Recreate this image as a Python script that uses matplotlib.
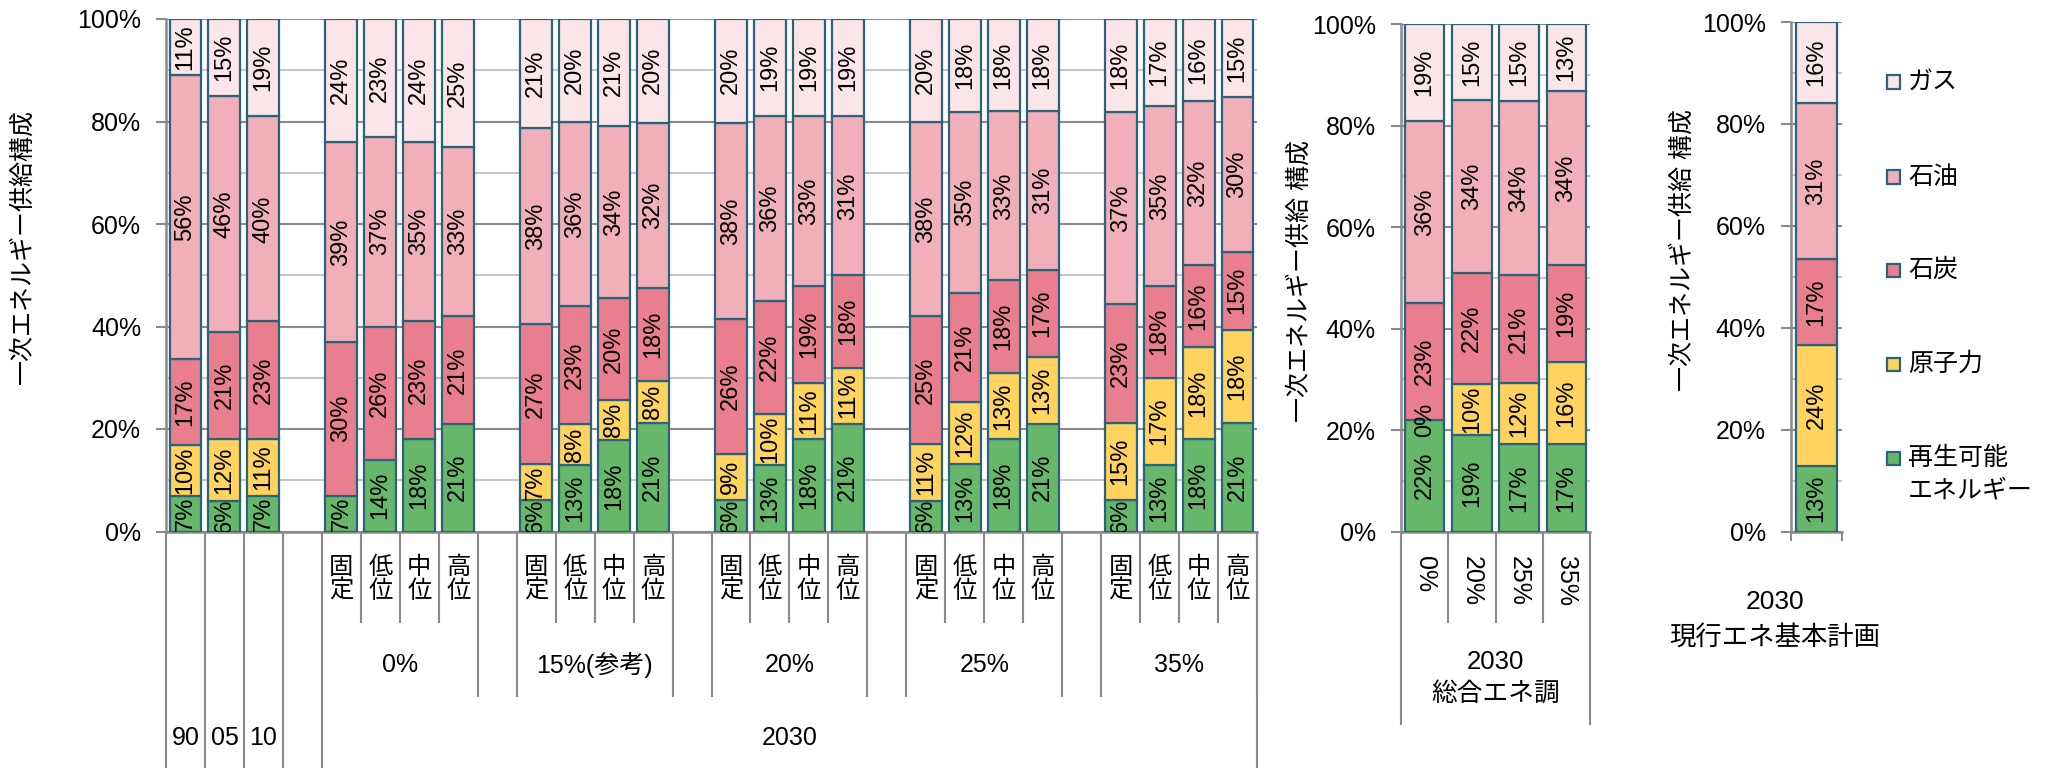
import matplotlib
matplotlib.use('Agg')
import matplotlib.pyplot as plt
import matplotlib.transforms as mtransforms
from matplotlib.patches import Rectangle

plt.rcParams['font.family'] = ['Liberation Sans', 'Noto Sans CJK JP']

# ---------------- data ----------------
sources = ['再生可能\nエネルギー', '原子力', '石炭', '石油', 'ガス']
colors = ['#66B76A', '#FFD35E', '#E97E8E', '#F1AFB9', '#FBE5E9']

years = ['90', '05', '10']
scenarios = ['0%', '15%(参考)', '20%', '25%', '35%']
cases = ['固定', '低位', '中位', '高位']
year_2030 = '2030'

renew_left = [7, 6, 7, 7, 14, 18, 21, 6, 13, 18, 21, 6, 13, 18, 21, 6, 13, 18, 21, 6, 13, 18, 21]
nuclear_left = [10, 12, 11, 0, 0, 0, 0, 7, 8, 8, 8, 9, 10, 11, 11, 11, 12, 13, 13, 15, 17, 18, 18]
coal_left = [17, 21, 23, 30, 26, 23, 21, 27, 23, 20, 18, 26, 22, 19, 18, 25, 21, 18, 17, 23, 18, 16, 15]
oil_left = [56, 46, 40, 39, 37, 35, 33, 38, 36, 34, 32, 38, 36, 33, 31, 38, 35, 33, 31, 37, 35, 32, 30]
gas_left = [11, 15, 19, 24, 23, 24, 25, 21, 20, 21, 20, 20, 19, 19, 19, 20, 18, 18, 18, 18, 17, 16, 15]

mid_cats = ['0%', '20%', '25%', '35%']
mid_title = ['2030', '総合エネ調']
renew_mid = [22, 19, 17, 17]
nuclear_mid = [0, 10, 12, 16]
coal_mid = [23, 22, 21, 19]
oil_mid = [36, 34, 34, 34]
gas_mid = [19, 15, 15, 13]

right_title = ['2030', '現行エネ基本計画']
plan_values = [13, 24, 17, 31, 16]  # renew, nuclear, coal, oil, gas

ylabel_left = '一次エネルギー供給構成'
ylabel_other = '一次エネルギー供給 構成'

# ---------------- style ----------------
W, H = 2053, 768
EDGE = '#2B6478'
GRID_MAJ = '#8A8A8A'
GRID_MIN = '#C6C6C6'
LINE = '#8A8A8A'

fig = plt.figure(figsize=(W / 100, H / 100), dpi=100)


def add_axes_px(x0, x1, ytop, ybot):
    return fig.add_axes([x0 / W, 1 - ybot / H, (x1 - x0) / W, (ybot - ytop) / H])


def style_axes(ax, xlim):
    ax.set_xlim(*xlim)
    ax.set_ylim(0, 100)
    ax.set_yticks(range(0, 101, 20))
    ax.set_yticklabels([f'{v}%' for v in range(0, 101, 20)])
    ax.set_yticks(range(10, 100, 20), minor=True)
    ax.yaxis.grid(True, which='major', color=GRID_MAJ, lw=1.5)
    ax.yaxis.grid(True, which='minor', color=GRID_MIN, lw=1.5)
    ax.tick_params(axis='y', which='major', length=7, width=1.5, color=LINE,
                   pad=11, labelsize=18)
    ax.tick_params(axis='y', which='minor', length=0)
    ax.set_xticks([])
    ax.set_axisbelow(True)
    for s in ['top', 'right']:
        ax.spines[s].set_visible(False)
    for s in ['left', 'bottom']:
        ax.spines[s].set_color(LINE)
        ax.spines[s].set_linewidth(1.8)


def draw_stacks(ax, xs, series, width, show_zero):
    n = len(xs)
    for j in range(n):
        vals = [s[j] for s in series]
        tot = sum(vals)
        bottom = 0.0
        for i, v in enumerate(vals):
            h = v / tot * 100
            if v > 0:
                ax.bar(xs[j], h, width, bottom=bottom, color=colors[i],
                       edgecolor=EDGE, linewidth=1.6, zorder=3)
            if v > 0 or show_zero[j]:
                ax.text(xs[j], bottom + h / 2, f'{v}%', rotation=90,
                        ha='center', va='center', fontsize=17, zorder=5,
                        clip_on=True)
            bottom += h


def vline(ax, x, ypx0, ypx1):
    tr = mtransforms.blended_transform_factory(ax.transData, fig.transFigure)
    ax.plot([x, x], [1 - ypx0 / H, 1 - ypx1 / H], transform=tr,
            color=LINE, lw=1.5, clip_on=False, solid_capstyle='butt')


def label(ax, x, ypx, s, **kw):
    tr = mtransforms.blended_transform_factory(ax.transData, fig.transFigure)
    ax.text(x, 1 - ypx / H, s, transform=tr, clip_on=False, **kw)


YBOT = 531.5

# ---------------- left chart ----------------
axL = add_axes_px(166, 1257, 19, YBOT)
style_axes(axL, (-0.5, 27.5))
xs_left = [0, 1, 2] + [4 + 5 * g + c for g in range(len(scenarios)) for c in range(len(cases))]
series_left = [renew_left, nuclear_left, coal_left, oil_left, gas_left]
show_zero_left = [False] * len(xs_left)
draw_stacks(axL, xs_left, series_left, 0.82, show_zero_left)

# multi-level category axis
for b in [-0.5, 0.5, 1.5, 2.5, 3.5, 27.5]:
    vline(axL, b, YBOT, 768)
for g in range(len(scenarios)):
    start = 4 + 5 * g
    if g > 0:
        vline(axL, start - 0.5, YBOT, 697)
    vline(axL, start + 3.5, YBOT, 697)
    for c in range(1, 4):
        vline(axL, start + c - 0.5, YBOT, 623)
    for c, name in enumerate(cases):
        label(axL, start + c, 557, '\n'.join(name), ha='center', va='top',
              fontsize=17.5, linespacing=1.05)
    label(axL, start + 1.5, 665, scenarios[g], ha='center', va='center', fontsize=18)
for i, y in enumerate(years):
    label(axL, i, 738, y, ha='center', va='center', fontsize=18)
label(axL, 15.5, 738, year_2030, ha='center', va='center', fontsize=18)

# ---------------- middle chart ----------------
axM = add_axes_px(1401, 1590, 24.3, YBOT)
style_axes(axM, (-0.5, 3.5))
xs_mid = list(range(len(mid_cats)))
series_mid = [renew_mid, nuclear_mid, coal_mid, oil_mid, gas_mid]
draw_stacks(axM, xs_mid, series_mid, 0.84, [True] * len(xs_mid))
for b in [-0.5, 3.5]:
    vline(axM, b, YBOT, 725)
for b in [0.5, 1.5, 2.5]:
    vline(axM, b, YBOT, 623)
for i, c in enumerate(mid_cats):
    label(axM, i, 556, c, ha='center', va='top', rotation=270, fontsize=18)
label(axM, 1.5, 662, mid_title[0], ha='center', va='center', fontsize=18.5)
label(axM, 1.5, 694, mid_title[1], ha='center', va='center', fontsize=18.5)

# ---------------- right chart ----------------
axR = add_axes_px(1791, 1842, 22, YBOT)
style_axes(axR, (-0.5, 0.5))
series_right = [[v] for v in plan_values]
draw_stacks(axR, [0], series_right, 0.82, [True])
for b in [-0.5, 0.5]:
    vline(axR, b, YBOT, 541)
fig.text(1775 / W, 1 - 602 / H, right_title[0], ha='center', va='center', fontsize=19)
fig.text(1775 / W, 1 - 637 / H, right_title[1], ha='center', va='center', fontsize=19)

# ---------------- y labels ----------------
fig.text(23 / W, 1 - 246 / H, ylabel_left, rotation=90, ha='center', va='center', fontsize=18)
fig.text(1300 / W, 1 - 281 / H, ylabel_other, rotation=90, ha='center', va='center', fontsize=18)
fig.text(1683 / W, 1 - 250 / H, ylabel_other, rotation=90, ha='center', va='center', fontsize=18)

# ---------------- legend ----------------
leg_rows = [82, 177, 270, 364, 458]
leg_order = [4, 3, 2, 1, 0]
for y, idx in zip(leg_rows, leg_order):
    fig.add_artist(Rectangle(((1887) / W, 1 - (y + 6.5) / H), 13 / W, 13 / H,
                             transform=fig.transFigure, facecolor=colors[idx],
                             edgecolor=EDGE, linewidth=1.6))
    lines = sources[idx].split('\n')
    for k, t in enumerate(lines):
        fig.text(1908 / W, 1 - (y + 32 * k) / H, t, ha='left', va='center', fontsize=18)

fig.savefig('out.png', dpi=100)
